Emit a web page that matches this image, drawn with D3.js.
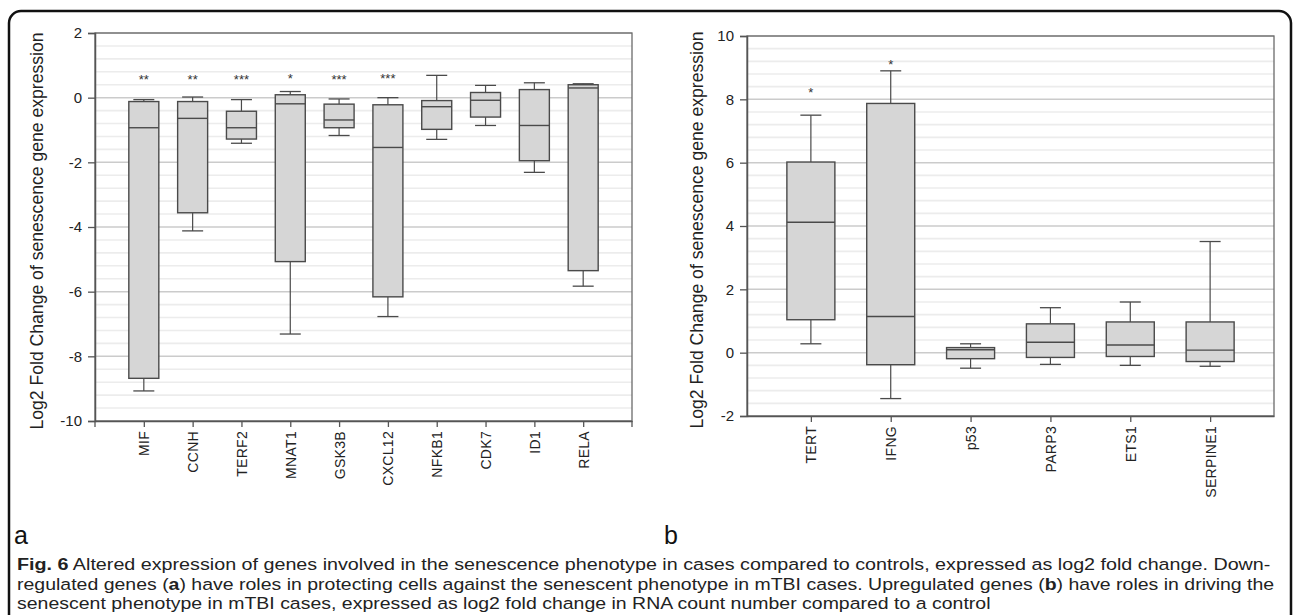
<!DOCTYPE html>
<html>
<head>
<meta charset="utf-8">
<script src="https://cdn.jsdelivr.net/npm/d3@7"></script>
<style>
  body { margin: 0; background: #fff; }
  svg { display: block; }
</style>
</head>
<body>
<div id="chart"></div>
<script>
// Panel a - down-regulated genes
const genesA = ["MIF", "CCNH", "TERF2", "MNAT1", "GSK3B", "CXCL12", "NFKB1", "CDK7", "ID1", "RELA"];
const whiskerHighA = [-0.06, 0.02, -0.06, 0.19, -0.04, 0.0, 0.69, 0.38, 0.46, 0.43];
const boxHighA = [-0.12, -0.12, -0.42, 0.09, -0.20, -0.22, -0.09, 0.16, 0.25, 0.40];
const medianA = [-0.93, -0.64, -0.93, -0.19, -0.69, -1.54, -0.28, -0.08, -0.86, 0.30];
const boxLowA = [-8.68, -3.56, -1.28, -5.07, -0.93, -6.16, -0.98, -0.60, -1.95, -5.35];
const whiskerLowA = [-9.07, -4.12, -1.41, -7.31, -1.17, -6.77, -1.29, -0.86, -2.31, -5.83];
const starsA = ["**", "**", "***", "*", "***", "***", "", "", "", ""];
const starLevelA = [0.64, 0.64, 0.66, 0.68, 0.64, 0.68, 0, 0, 0, 0];
const ticksA = [2, 0, -2, -4, -6, -8, -10];

// Panel b - up-regulated genes
const genesB = ["TERT", "IFNG", "p53", "PARP3", "ETS1", "SERPINE1"];
const whiskerHighB = [7.50, 8.90, 0.28, 1.42, 1.60, 3.51];
const boxHighB = [6.02, 7.87, 0.16, 0.91, 0.97, 0.97];
const medianB = [4.12, 1.14, 0.09, 0.33, 0.24, 0.08];
const boxLowB = [1.04, -0.38, -0.19, -0.15, -0.12, -0.28];
const whiskerLowB = [0.28, -1.45, -0.49, -0.37, -0.40, -0.43];
const starsB = ["*", "*", "", "", "", ""];
const starLevelB = [8.3, 9.2, 0, 0, 0, 0];
const ticksB = [10, 8, 6, 4, 2, 0, -2];

const yTitle = "Log2 Fold Change of senescence gene expression";

const captionLines = [
  [["Fig. 6", true], [" Altered expression of genes involved in the senescence phenotype in cases compared to controls, expressed as log2 fold change. Down-", false]],
  [["regulated genes (", false], ["a", true], [") have roles in protecting cells against the senescent phenotype in mTBI cases. Upregulated genes (", false], ["b", true], [") have roles in driving the", false]],
  [["senescent phenotype in mTBI cases, expressed as log2 fold change in RNA count number compared to a control", false]]
];

const width = 1293, height = 615;
const axisFont = "'Liberation Sans', Arial, sans-serif";

const svg = d3.select("#chart").append("svg")
  .attr("width", width)
  .attr("height", height);

svg.append("rect")
  .attr("width", width)
  .attr("height", height)
  .attr("fill", "#fff");

// Outer rounded frame (bottom runs off the picture)
svg.append("rect")
  .attr("x", 9)
  .attr("y", 11)
  .attr("width", 1282)
  .attr("height", 700)
  .attr("rx", 12)
  .attr("fill", "none")
  .attr("stroke", "#111")
  .attr("stroke-width", 2.5);

function drawPanel(p) {
  const g = svg.append("g");

  const x = d3.scalePoint()
    .domain(p.genes)
    .range([p.left, p.right])
    .padding(p.pad);

  const y = d3.scaleLinear()
    .domain([p.yMin, p.yMax])
    .range([p.bottom, p.top]);

  // minor grid lines
  const minor = d3.range(p.yMin, p.yMax + 0.001, 0.4)
    .filter(v => Math.abs(v / 2 - Math.round(v / 2)) > 0.01);
  g.selectAll(".minor")
    .data(minor)
    .join("line")
    .attr("x1", p.left)
    .attr("x2", p.right)
    .attr("y1", d => y(d))
    .attr("y2", d => y(d))
    .attr("stroke", "#ececec")
    .attr("stroke-width", 1.6);

  // major grid lines
  g.selectAll(".major")
    .data(p.ticks)
    .join("line")
    .attr("x1", p.left)
    .attr("x2", p.right)
    .attr("y1", d => y(d))
    .attr("y2", d => y(d))
    .attr("stroke", "#cbcbcb")
    .attr("stroke-width", 1.5);

  // plot frame
  g.append("rect")
    .attr("x", p.left)
    .attr("y", p.top)
    .attr("width", p.right - p.left)
    .attr("height", p.bottom - p.top)
    .attr("fill", "none")
    .attr("stroke", "#6a6a6a")
    .attr("stroke-width", 1.3);

  // y axis
  const yAxis = g.append("g")
    .attr("transform", `translate(${p.left},0)`)
    .call(d3.axisLeft(y).tickValues(p.ticks).tickSize(7).tickPadding(6).tickFormat(d3.format("d")));
  yAxis.select(".domain").attr("stroke", "#555").attr("stroke-width", 1.5);
  yAxis.selectAll(".tick line").attr("stroke", "#555").attr("stroke-width", 1.3);
  yAxis.selectAll(".tick text")
    .attr("font-family", axisFont)
    .attr("font-size", "15px")
    .attr("fill", "#222")
    .text(d => d < 0 ? "-" + Math.abs(d) : d);

  // x axis
  const xAxis = g.append("g")
    .attr("transform", `translate(0,${p.bottom})`)
    .call(d3.axisBottom(x).tickSize(6).tickSizeOuter(0));
  xAxis.select(".domain").attr("stroke", "#555").attr("stroke-width", 1.5);
  xAxis.selectAll(".tick line").attr("stroke", "#555").attr("stroke-width", 1.3);
  xAxis.selectAll(".tick text")
    .attr("transform", "rotate(-90)")
    .attr("text-anchor", "end")
    .attr("x", -10)
    .attr("y", 0)
    .attr("dy", "0.36em")
    .attr("font-family", axisFont)
    .attr("font-size", "14px")
    .attr("letter-spacing", "0.3px")
    .attr("fill", "#222");

  if (p.endTicks) {
    xAxis.selectAll(".endtick")
      .data(x.range())
      .join("line")
      .attr("x1", d => d)
      .attr("x2", d => d)
      .attr("y1", 0)
      .attr("y2", 6)
      .attr("stroke", "#555")
      .attr("stroke-width", 1.3);
  }

  // box plots
  const boxes = g.selectAll(".box")
    .data(p.genes.map((gene, i) => ({
      gene,
      wHi: p.wHi[i], bHi: p.bHi[i], med: p.med[i], bLo: p.bLo[i], wLo: p.wLo[i],
      star: p.stars[i], starAt: p.starAt[i]
    })))
    .join("g")
    .attr("transform", d => `translate(${x(d.gene)},0)`);

  const stroke = "#4a4a4a";

  boxes.append("line")
    .attr("y1", d => y(d.wHi))
    .attr("y2", d => y(d.bHi))
    .attr("stroke", stroke)
    .attr("stroke-width", 1.2);
  boxes.append("line")
    .attr("y1", d => y(d.bLo))
    .attr("y2", d => y(d.wLo))
    .attr("stroke", stroke)
    .attr("stroke-width", 1.2);
  boxes.append("line")
    .attr("x1", -p.capW / 2)
    .attr("x2", p.capW / 2)
    .attr("y1", d => y(d.wHi))
    .attr("y2", d => y(d.wHi))
    .attr("stroke", stroke)
    .attr("stroke-width", 1.3);
  boxes.append("line")
    .attr("x1", -p.capW / 2)
    .attr("x2", p.capW / 2)
    .attr("y1", d => y(d.wLo))
    .attr("y2", d => y(d.wLo))
    .attr("stroke", stroke)
    .attr("stroke-width", 1.3);

  boxes.append("rect")
    .attr("x", -p.boxW / 2)
    .attr("width", p.boxW)
    .attr("y", d => y(d.bHi))
    .attr("height", d => y(d.bLo) - y(d.bHi))
    .attr("fill", "#d6d6d6")
    .attr("stroke", stroke)
    .attr("stroke-width", 1.4);

  boxes.append("line")
    .attr("x1", -p.boxW / 2)
    .attr("x2", p.boxW / 2)
    .attr("y1", d => y(d.med))
    .attr("y2", d => y(d.med))
    .attr("stroke", stroke)
    .attr("stroke-width", 1.4);

  // significance stars
  boxes.filter(d => d.star)
    .append("text")
    .attr("text-anchor", "middle")
    .attr("y", d => y(d.starAt) + 7.5)
    .attr("font-family", axisFont)
    .attr("font-size", "13px")
    .attr("fill", "#333")
    .text(d => d.star);

  // y title
  svg.append("text")
    .attr("transform", `translate(${p.titleX},${(p.top + p.bottom) / 2 + 4}) rotate(-90)`)
    .attr("text-anchor", "middle")
    .attr("dy", "0.35em")
    .attr("font-family", axisFont)
    .attr("font-size", "17.6px")
    .attr("fill", "#222")
    .text(yTitle);

  // panel letter
  svg.append("text")
    .attr("x", p.letterX)
    .attr("y", 544)
    .attr("font-family", axisFont)
    .attr("font-size", "25px")
    .attr("fill", "#111")
    .text(p.letter);
}

drawPanel({
  genes: genesA, wHi: whiskerHighA, bHi: boxHighA, med: medianA, bLo: boxLowA, wLo: whiskerLowA,
  stars: starsA, starAt: starLevelA, ticks: ticksA,
  yMin: -10, yMax: 2,
  left: 95, right: 632, top: 33, bottom: 421,
  pad: 1, boxW: 30, capW: 21, endTicks: true,
  titleX: 37, letter: "a", letterX: 14
});

drawPanel({
  genes: genesB, wHi: whiskerHighB, bHi: boxHighB, med: medianB, bLo: boxLowB, wLo: whiskerLowB,
  stars: starsB, starAt: starLevelB, ticks: ticksB,
  yMin: -2, yMax: 10,
  left: 747, right: 1274, top: 36, bottom: 416,
  pad: 0.8, boxW: 48, capW: 21, endTicks: false,
  titleX: 697, letter: "b", letterX: 664
});

// caption, condensed to the column width
const capLeft = 17;
const capWidths = [1254, 1258, null];
const capBase = [570, 589.5, 609];
let lastScale = 1;
captionLines.forEach((parts, i) => {
  const t = svg.append("text")
    .attr("font-family", axisFont)
    .attr("font-size", "16.5px")
    .attr("fill", "#222");
  parts.forEach(([s, bold]) => {
    t.append("tspan")
      .attr("font-weight", bold ? "bold" : "normal")
      .text(s);
  });
  const natural = t.node().getComputedTextLength();
  const k = capWidths[i] ? capWidths[i] / natural : lastScale;
  lastScale = k;
  t.attr("transform", `translate(${capLeft},${capBase[i]}) scale(${k},1)`);
});
</script>
</body>
</html>
